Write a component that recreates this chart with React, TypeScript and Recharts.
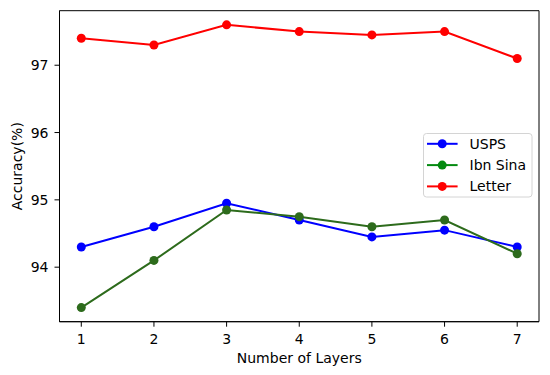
import React from 'react';
import { LineChart, Line, XAxis, YAxis, ReferenceArea, Legend } from 'recharts';

const layers = [1, 2, 3, 4, 5, 6, 7];
const usps = [94.3, 94.6, 94.95, 94.7, 94.45, 94.55, 94.3];
const ibnSina = [93.4, 94.1, 94.85, 94.75, 94.6, 94.7, 94.2];
const letter = [97.4, 97.3, 97.6, 97.5, 97.45, 97.5, 97.1];
const yTicks = [94, 95, 96, 97];

const seriesList = [
  { key: 'usps', name: 'USPS', color: '#0000ff', legendColor: '#0000ff' },
  { key: 'ibnSina', name: 'Ibn Sina', color: '#2d6b1c', legendColor: '#048a10' },
  { key: 'letter', name: 'Letter', color: '#ff0000', legendColor: '#ff0000' },
];

const data = layers.map((l, i) => ({ layer: l, usps: usps[i], ibnSina: ibnSina[i], letter: letter[i] }));

const FONT = '"DejaVu Sans", sans-serif';
const X_DOMAIN: [number, number] = [0.7, 7.3];
const Y_DOMAIN: [number, number] = [93.19, 97.81];

const LegendBox = () => (
  <svg width={110} height={65} style={{ display: 'block' }}>
    <rect x={0.5} y={0.5} width={108.5} height={63.5} rx={3} ry={3} fill="rgba(255,255,255,0.8)" stroke="#d4d4d4" strokeWidth={1} />
    {seriesList.map((s, i) => {
      const cy = 10.8 + i * 21.3;
      return (
        <g key={s.key}>
          <line x1={4} x2={34.6} y1={cy} y2={cy} stroke={s.legendColor} strokeWidth={2} />
          <circle cx={19.2} cy={cy} r={4.5} fill={s.legendColor} />
          <text x={46.5} y={cy} dy="0.36em" fontFamily={FONT} fontSize={14} fill="#000">{s.name}</text>
        </g>
      );
    })}
  </svg>
);

export default function App() {
  return (
    <div style={{ position: 'absolute', left: 0, top: 0, width: 550, height: 375, background: '#fff' }}>
      <LineChart width={550} height={375} data={data} margin={{ top: 10.7, right: 11, left: 0, bottom: 0 }}>
        <XAxis
          dataKey="layer"
          type="number"
          domain={X_DOMAIN}
          ticks={layers}
          allowDataOverflow
          height={53.3}
          tickSize={5}
          tickMargin={7.5}
          stroke="#000"
          tick={{ fill: '#000', fontSize: 14, fontFamily: FONT }}
          tickLine={{ stroke: '#000' }}
          label={{ value: 'Number of Layers', position: 'insideBottom', offset: 11.7, fill: '#000', fontSize: 14, fontFamily: FONT }}
        />
        <YAxis
          type="number"
          domain={Y_DOMAIN}
          ticks={yTicks}
          allowDataOverflow
          width={59.5}
          tickSize={5}
          tickMargin={6}
          stroke="#000"
          tick={{ fill: '#000', fontSize: 14, fontFamily: FONT }}
          tickLine={{ stroke: '#000' }}
          label={{ value: 'Accuracy(%)', angle: -90, position: 'insideLeft', offset: 17.5, fill: '#000', fontSize: 14, fontFamily: FONT, style: { textAnchor: 'middle' } }}
        />
        <ReferenceArea x1={X_DOMAIN[0]} x2={X_DOMAIN[1]} y1={Y_DOMAIN[0]} y2={Y_DOMAIN[1]} fill="none" fillOpacity={0} stroke="#000" strokeWidth={1} strokeOpacity={1} ifOverflow="visible" />
        {seriesList.map((s) => (
          <Line
            key={s.key}
            dataKey={s.key}
            name={s.name}
            stroke={s.color}
            strokeWidth={2}
            dot={{ r: 4.5, fill: s.color, stroke: s.color, strokeWidth: 0 }}
            activeDot={false}
            isAnimationActive={false}
          />
        ))}
        <Legend
          layout="vertical"
          align="center"
          verticalAlign="middle"
          content={() => <LegendBox />}
          wrapperStyle={{ position: 'absolute', left: 422.7, top: 133.3, width: 110, height: 65 }}
        />
      </LineChart>
    </div>
  );
}
